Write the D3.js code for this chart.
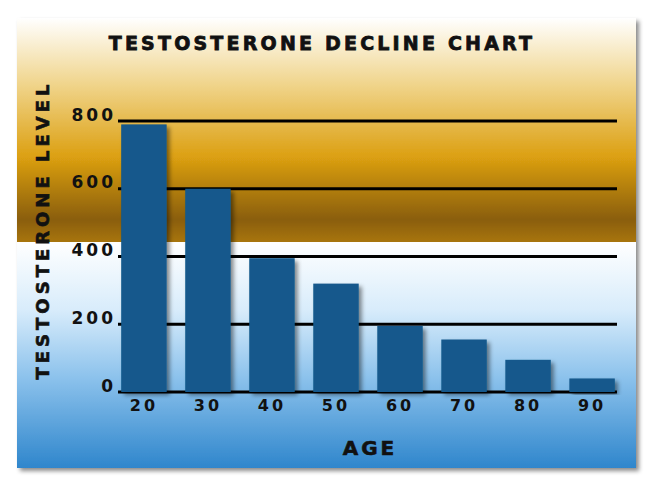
<!DOCTYPE html>
<html><head><meta charset="utf-8">
<script src="https://cdn.jsdelivr.net/npm/d3@7"></script>
<style>body{margin:0;background:#fff}svg{display:block}</style>
</head><body>
<svg id="c" width="650" height="486"></svg>
<script>
const ages = ["20","30","40","50","60","70","80","90"];
const levels = [790, 600, 395, 320, 195, 155, 95, 40];
const yTicks = [0, 200, 400, 600, 800];
const title = "TESTOSTERONE DECLINE CHART";
const yTitle = "TESTOSTERONE LEVEL";
const xTitle = "AGE";

const svg = d3.select("#c");
const defs = svg.append("defs");
const font = "'DejaVu Sans', sans-serif";

const gTop = defs.append("linearGradient").attr("id","gt").attr("x1",0).attr("y1",0).attr("x2",0).attr("y2",1);
[[0,"#ffffff"],[0.3,"#f0d48a"],[0.62,"#dca012"],[0.9,"#8a5e08"],[1,"#a87510"]].forEach(s=>gTop.append("stop").attr("offset",s[0]).attr("stop-color",s[1]));
const gBot = defs.append("linearGradient").attr("id","gb").attr("x1",0).attr("y1",0).attr("x2",0).attr("y2",1);
[[0,"#ffffff"],[0.3,"#d8ecfb"],[0.6,"#8cc2ec"],[1,"#2f86cc"]].forEach(s=>gBot.append("stop").attr("offset",s[0]).attr("stop-color",s[1]));
const f = defs.append("filter").attr("id","sh").attr("x","-10%").attr("y","-10%").attr("width","130%").attr("height","130%");
f.append("feDropShadow").attr("dx",3).attr("dy",3).attr("stdDeviation",2).attr("flood-color","#000").attr("flood-opacity",0.45);

const px0=17, px1=636, py0=18, pyMid=242, py1=468;
const panel = svg.append("g").attr("filter","url(#sh)");
panel.append("rect").attr("x",px0).attr("y",py0).attr("width",px1-px0).attr("height",pyMid-py0).attr("fill","url(#gt)");
panel.append("rect").attr("x",px0).attr("y",pyMid).attr("width",px1-px0).attr("height",py1-pyMid).attr("fill","url(#gb)");

const x = d3.scaleBand().domain(ages).range([118,618]).paddingInner(0.29).paddingOuter(0.05);
const y = d3.scaleLinear().domain([0,800]).range([392,121]);

svg.append("g").selectAll("line").data(yTicks).join("line")
  .attr("x1",118).attr("x2",617).attr("y1",d=>y(d)).attr("y2",d=>y(d))
  .attr("stroke","#000").attr("stroke-width",3);

svg.append("g").selectAll("rect").data(levels).join("rect")
  .attr("x",(d,i)=>x(ages[i])).attr("width",x.bandwidth())
  .attr("y",d=>y(d)).attr("height",d=>y(0)-y(d))
  .attr("fill","#15598c").attr("filter","url(#sh)");

const yAxis = svg.append("g").attr("transform","translate(118,0)")
  .call(d3.axisLeft(y).tickValues(yTicks).tickSize(0).tickPadding(2));
yAxis.select(".domain").remove();
yAxis.selectAll("text").attr("font-family",font).attr("font-weight","bold").attr("font-size",17)
  .attr("letter-spacing",3).attr("fill","#111").attr("dy","-0.05em");

const xAxis = svg.append("g").attr("transform","translate(0,400)")
  .call(d3.axisBottom(x).tickSize(0).tickPadding(0));
xAxis.select(".domain").remove();
xAxis.selectAll("text").attr("font-family",font).attr("font-weight","bold").attr("font-size",16)
  .attr("letter-spacing",3).attr("fill","#111");

svg.append("text").attr("x",322).attr("y",50).attr("text-anchor","middle")
  .attr("font-family",font).attr("font-weight","900").attr("font-size",19).attr("letter-spacing",3.2)
  .attr("fill","#111").attr("stroke","#111").attr("stroke-width",0.8).text(title);
svg.append("text").attr("x",370).attr("y",455).attr("text-anchor","middle")
  .attr("font-family",font).attr("font-weight","bold").attr("font-size",20).attr("letter-spacing",3)
  .attr("fill","#111").attr("stroke","#111").attr("stroke-width",0.6).text(xTitle);
svg.append("text").attr("transform","translate(49,230) rotate(-90)").attr("text-anchor","middle")
  .attr("font-family",font).attr("font-weight","bold").attr("font-size",18).attr("letter-spacing",4)
  .attr("fill","#111").attr("stroke","#111").attr("stroke-width",0.6).text(yTitle);
</script>
</body></html>
